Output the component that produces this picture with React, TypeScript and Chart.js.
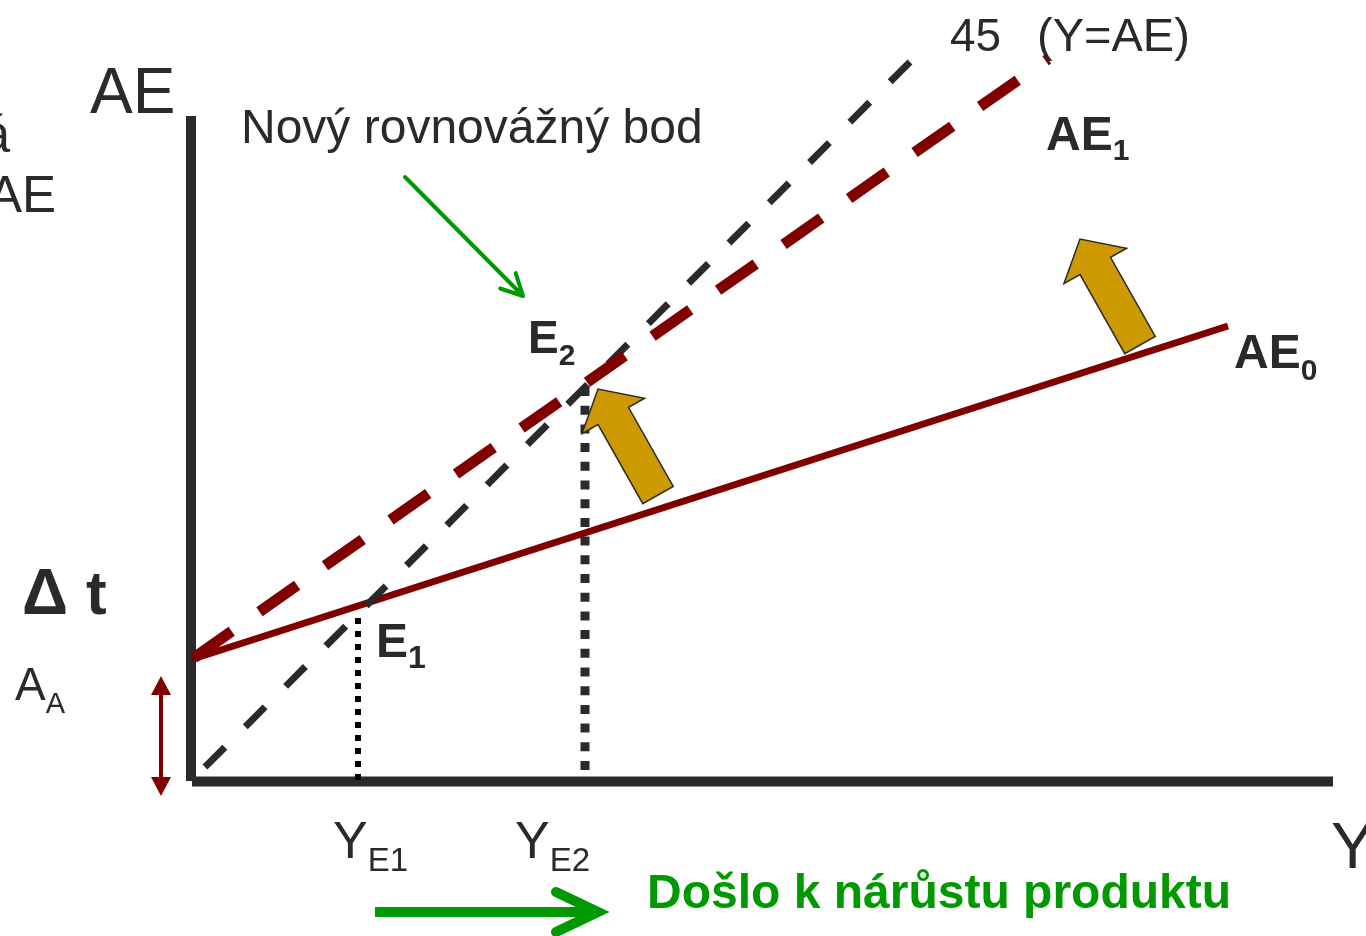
import React, { useEffect, useRef } from "react";
import { Chart, registerables } from "chart.js";

Chart.register(...registerables);

// ---- data (economic units: Y on x-axis, AE on y-axis) ----
const axisTopAE = 66.5;
const axisEndY = 114.2;
const line45Y = [1.4, 73.9];
const line45AE = [1.4, 73.9];
const ae0Y = [0.2, 103.7];
const ae0AE = [12.2, 45.5];
const ae1Y = [0.3, 85.7];
const ae1AE = [12.33, 72.2];
const equilibriumY = [16.7, 39.4]; // Y_E1, Y_E2
const equilibriumTopAE = [17.0, 39.4];
const equilibriumBottomAE = [0.1, 1.1];
const shiftTipY = [40.7, 88.9];
const shiftTipAE = [39.2, 54.2];
const shiftTailY = [46.7, 94.9];
const shiftTailAE = [28.6, 43.6];
const autonomousY = -3.0;
const autonomousAE = [10.5, -1.5];
const pointerFrom = [21.4, 60.4];
const pointerTo = [33.2, 48.5];
const growthArrowY = [18.4, 40.7];
const growthArrowAE = -13.1;

const FONT = '"Liberation Sans", Arial, sans-serif';
const DARK = "#2a2a2a";
const RED = "#800000";
const GREEN = "#009900";
const GOLD = "#CC9900";

type Label = {
  text: string;
  x: number;
  y: number;
  size: number;
  bold?: boolean;
  align?: CanvasTextAlign;
  color?: string;
  sub?: string;
  subSize?: number;
  subDrop?: number;
};

const labels: Label[] = [
  { text: "AE", x: -10.1, y: 66.8, size: 64 },
  { text: "á", x: -18.1, y: 62.9, size: 51, align: "right" },
  { text: "AE", x: -13.5, y: 56.9, size: 51, align: "right" },
  { text: "Nový rovnovážný bod", x: 5.0, y: 63.8, size: 48 },
  { text: "45", x: 75.9, y: 73.0, size: 46 },
  { text: "(Y=AE)", x: 84.6, y: 73.0, size: 47 },
  { text: "AE", x: 85.5, y: 63.1, size: 48, bold: true, sub: "1", subSize: 30, subDrop: 10 },
  { text: "AE", x: 104.3, y: 41.3, size: 48, bold: true, sub: "0", subSize: 30, subDrop: 12 },
  { text: "E", x: 33.7, y: 42.8, size: 46, bold: true, sub: "2", subSize: 30, subDrop: 12 },
  { text: "E", x: 18.5, y: 12.4, size: 48, bold: true, sub: "1", subSize: 32, subDrop: 11 },
  { text: "Δ", x: -16.9, y: 16.7, size: 64, bold: true },
  { text: "t", x: -10.5, y: 16.7, size: 62, bold: true },
  { text: "A", x: -17.6, y: 8.1, size: 46, sub: "A", subSize: 29, subDrop: 13 },
  { text: "Y", x: 14.2, y: -7.7, size: 52, sub: "E1", subSize: 33, subDrop: 13 },
  { text: "Y", x: 32.4, y: -7.7, size: 52, sub: "E2", subSize: 33, subDrop: 13 },
  { text: "Y", x: 114.0, y: -8.7, size: 65 },
  { text: "Došlo k nárůstu produktu", x: 45.6, y: -12.7, size: 48, bold: true, color: GREEN },
];

const pts = (xs: number[], ys: number[]) => xs.map((x, i) => ({ x, y: ys[i] }));

const annotationPlugin = {
  id: "annotations",
  afterDatasetsDraw(chart: any) {
    const ctx: CanvasRenderingContext2D = chart.ctx;
    const sx = chart.scales.x;
    const sy = chart.scales.y;
    const P = (x: number, y: number) => ({ x: sx.getPixelForValue(x), y: sy.getPixelForValue(y) });
    ctx.save();

    // gold block arrows
    for (let i = 0; i < shiftTipY.length; i++) {
      const tip = P(shiftTipY[i], shiftTipAE[i]);
      const tail = P(shiftTailY[i], shiftTailAE[i]);
      const dx = tip.x - tail.x;
      const dy = tip.y - tail.y;
      const len = Math.hypot(dx, dy);
      const ux = dx / len;
      const uy = dy / len;
      const px = -uy;
      const py = ux;
      const sw = 17.5;
      const hw = 36;
      const hl = 31;
      const bx = tip.x - ux * hl;
      const by = tip.y - uy * hl;
      ctx.beginPath();
      ctx.moveTo(tail.x + px * sw, tail.y + py * sw);
      ctx.lineTo(bx + px * sw, by + py * sw);
      ctx.lineTo(bx + px * hw, by + py * hw);
      ctx.lineTo(tip.x, tip.y);
      ctx.lineTo(bx - px * hw, by - py * hw);
      ctx.lineTo(bx - px * sw, by - py * sw);
      ctx.lineTo(tail.x - px * sw, tail.y - py * sw);
      ctx.closePath();
      ctx.fillStyle = GOLD;
      ctx.fill();
      ctx.lineWidth = 1.5;
      ctx.strokeStyle = DARK;
      ctx.lineJoin = "miter";
      ctx.stroke();
    }

    // double-headed autonomous arrow
    {
      const top = P(autonomousY, autonomousAE[0]);
      const bot = P(autonomousY, autonomousAE[1]);
      const hl = 19;
      const hw = 10;
      ctx.strokeStyle = RED;
      ctx.fillStyle = RED;
      ctx.lineWidth = 4;
      ctx.lineCap = "butt";
      ctx.beginPath();
      ctx.moveTo(top.x, top.y + hl - 1);
      ctx.lineTo(bot.x, bot.y - hl + 1);
      ctx.stroke();
      ctx.beginPath();
      ctx.moveTo(top.x, top.y);
      ctx.lineTo(top.x - hw, top.y + hl);
      ctx.lineTo(top.x + hw, top.y + hl);
      ctx.closePath();
      ctx.fill();
      ctx.beginPath();
      ctx.moveTo(bot.x, bot.y);
      ctx.lineTo(bot.x - hw, bot.y - hl);
      ctx.lineTo(bot.x + hw, bot.y - hl);
      ctx.closePath();
      ctx.fill();
    }

    // thin green pointer arrow
    {
      const a = P(pointerFrom[0], pointerFrom[1]);
      const b = P(pointerTo[0], pointerTo[1]);
      const ang = Math.atan2(b.y - a.y, b.x - a.x);
      ctx.strokeStyle = GREEN;
      ctx.lineWidth = 4;
      ctx.lineCap = "round";
      ctx.lineJoin = "round";
      ctx.beginPath();
      ctx.moveTo(a.x, a.y);
      ctx.lineTo(b.x, b.y);
      const bl = 24;
      const spread = (27 * Math.PI) / 180;
      ctx.moveTo(b.x - bl * Math.cos(ang - spread), b.y - bl * Math.sin(ang - spread));
      ctx.lineTo(b.x, b.y);
      ctx.lineTo(b.x - bl * Math.cos(ang + spread), b.y - bl * Math.sin(ang + spread));
      ctx.stroke();
    }

    // big green growth arrow
    {
      const a = P(growthArrowY[0], growthArrowAE);
      const b = P(growthArrowY[1], growthArrowAE);
      ctx.strokeStyle = GREEN;
      ctx.lineWidth = 10;
      ctx.lineCap = "butt";
      ctx.beginPath();
      ctx.moveTo(a.x, a.y);
      ctx.lineTo(b.x - 6, b.y);
      ctx.stroke();
      ctx.lineCap = "round";
      ctx.lineJoin = "miter";
      ctx.beginPath();
      ctx.moveTo(b.x - 42, b.y - 20);
      ctx.lineTo(b.x, b.y);
      ctx.lineTo(b.x - 42, b.y + 20);
      ctx.stroke();
    }

    // text labels
    ctx.textBaseline = "alphabetic";
    for (const l of labels) {
      const p = P(l.x, l.y);
      const weight = l.bold ? "bold " : "";
      ctx.font = `${weight}${l.size}px ${FONT}`;
      ctx.fillStyle = l.color || DARK;
      ctx.textAlign = l.align || "left";
      ctx.fillText(l.text, p.x, p.y);
      if (l.sub) {
        const w = ctx.measureText(l.text).width;
        ctx.font = `${weight}${l.subSize}px ${FONT}`;
        ctx.textAlign = "left";
        ctx.fillText(l.sub, p.x + w, p.y + (l.subDrop || 0));
      }
    }
    ctx.restore();
  },
};

export default function App() {
  const ref = useRef<HTMLCanvasElement | null>(null);

  useEffect(() => {
    document.body.style.margin = "0";
    document.body.style.overflow = "hidden";
    if (!ref.current) return;
    const line = (data: any[], color: string, width: number, dash: number[] = []) => ({
      data,
      showLine: true,
      borderColor: color,
      backgroundColor: color,
      borderWidth: width,
      borderDash: dash,
      borderCapStyle: "butt",
      pointRadius: 0,
      pointHoverRadius: 0,
      tension: 0,
      fill: false,
      clip: false,
    });
    const datasets = [
      line(pts([equilibriumY[1], equilibriumY[1]], [equilibriumBottomAE[1], equilibriumTopAE[1]]), DARK, 9, [9, 9.7]),
      line(pts([equilibriumY[0], equilibriumY[0]], [equilibriumBottomAE[0], equilibriumTopAE[0]]), "#000000", 6, [6, 7]),
      line(pts(ae1Y, ae1AE), RED, 11, [46, 34]),
      line(pts(line45Y, line45AE), DARK, 7, [28, 29]),
      line(pts(ae0Y, ae0AE), RED, 7),
      line(pts([0, 0], [0, axisTopAE]), DARK, 10),
      line(pts([0.1, axisEndY], [-0.05, -0.05]), DARK, 10),
    ];
    const chart = new Chart(ref.current, {
      type: "scatter",
      data: { datasets: datasets as any },
      options: {
        animation: false,
        responsive: false,
        maintainAspectRatio: false,
        devicePixelRatio: 1,
        layout: { padding: 0 },
        events: [],
        plugins: { legend: { display: false }, tooltip: { enabled: false } },
        scales: {
          x: { type: "linear", min: -19.1, max: 117.5, display: false },
          y: { type: "linear", min: -15.5, max: 78.1, display: false },
        },
      },
      plugins: [annotationPlugin],
    });
    return () => chart.destroy();
  }, []);

  return (
    <div style={{ width: 1366, height: 936, background: "#ffffff" }}>
      <canvas ref={ref} width={1366} height={936} style={{ display: "block" }} />
    </div>
  );
}
